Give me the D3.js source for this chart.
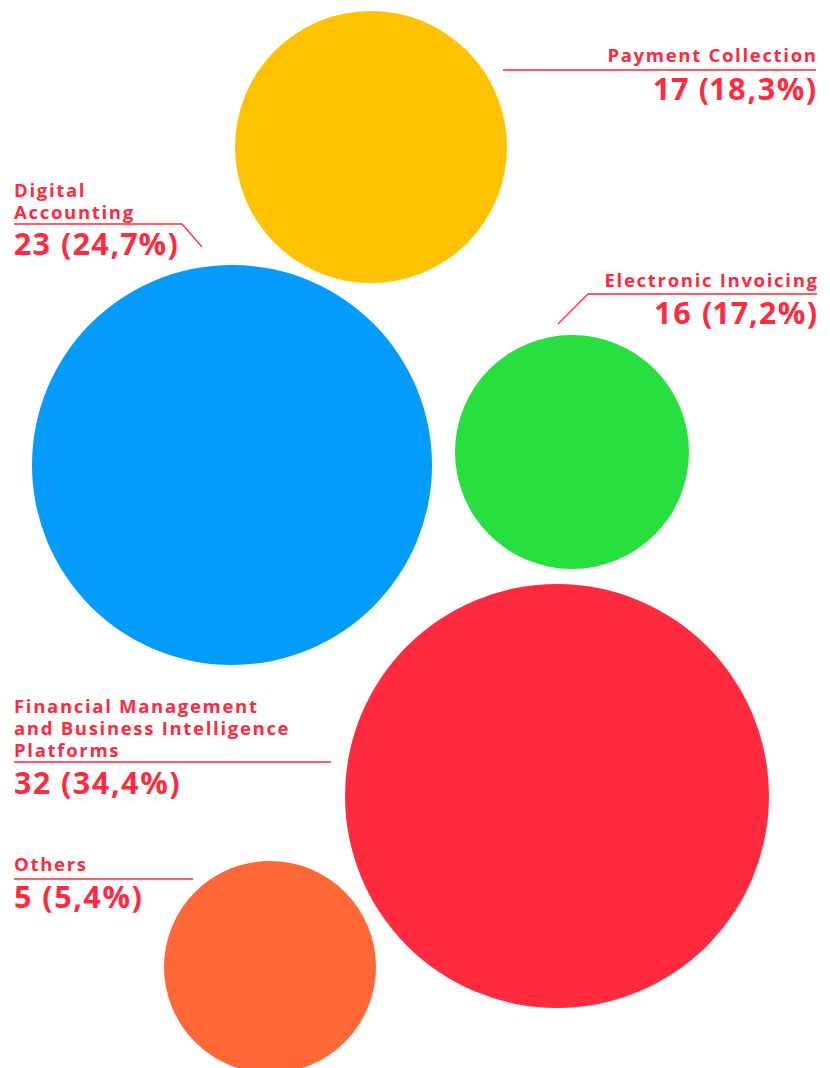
<!DOCTYPE html>
<html>
<head>
<meta charset="utf-8">
<script src="https://cdn.jsdelivr.net/npm/d3@7"></script>
<style>
  html, body { margin: 0; padding: 0; background: #fff; }
  text { font-family: "Open Sans", "DejaVu Sans", sans-serif; font-weight: 700; fill: #ff2a3d; }
  .value { font-variant-numeric: proportional-nums; font-feature-settings: "pnum" 1; }
</style>
</head>
<body>
<div id="chart"></div>
<script>
/* DATA */
const categories = ["Payment Collection", "Digital Accounting", "Electronic Invoicing",
    "Financial Management and Business Intelligence Platforms", "Others"];
const counts = [17, 23, 16, 32, 5];
const percents = [18.3, 24.7, 17.2, 34.4, 5.4];
const labelLines = [["Payment Collection"], ["Digital", "Accounting"], ["Electronic Invoicing"],
    ["Financial Management", "and Business Intelligence", "Platforms"], ["Others"]];

const colorBubble = ["#ffc200", "#039cfb", "#27e03f", "#ff2a3d", "#ff6836"];
const textColor = "#ff2a3d";

/* LAYOUT (hand placed, as in the infographic) */
const layout = [
    {cx: 371, cy: 147, anchor: "end",   tx: 816, nameY: 62,  lineY: 70,  x0: 503, x1: 816, valueY: 100, tail: null},
    {cx: 232, cy: 465, anchor: "start", tx: 14,  nameY: 197, lineY: 224, x0: 14,  x1: 182, valueY: 255, tail: [202, 247]},
    {cx: 572, cy: 452, anchor: "end",   tx: 817, nameY: 287, lineY: 294, x0: 588, x1: 817, valueY: 324, tail: [558, 324]},
    {cx: 557, cy: 796, anchor: "start", tx: 14,  nameY: 713, lineY: 762, x0: 14,  x1: 331, valueY: 794, tail: null},
    {cx: 270, cy: 967, anchor: "start", tx: 14,  nameY: 871, lineY: 879, x0: 14,  x1: 193, valueY: 908, tail: null}
];

const width = 830, height = 1068;

const data = categories.map((c, i) => ({
    category: c, count: counts[i], pct: percents[i], lines: labelLines[i],
    color: colorBubble[i], ...layout[i]
}));

// bubble size grows with the count (the original is not strictly proportional)
const r = d3.scaleLinear()
    .domain([5, 16, 17, 23, 32])
    .range([106, 117, 136, 200, 212]);

const fmt = v => d3.format(".1f")(v).replace(".", ",");

const svg = d3.select("#chart").append("svg")
    .attr("width", width)
    .attr("height", height);

svg.append("g")
    .selectAll("circle")
    .data(data)
    .enter().append("circle")
        .attr("cx", d => d.cx)
        .attr("cy", d => d.cy)
        .attr("r", d => r(d.count))
        .attr("fill", d => d.color);

const lab = svg.append("g")
    .selectAll("g")
    .data(data)
    .enter().append("g");

// leader lines
lab.append("path")
    .attr("fill", "none")
    .attr("stroke", textColor)
    .attr("stroke-width", 1.3)
    .attr("d", d => {
        const p = d3.path();
        if (d.tail && d.anchor == "start") {
            p.moveTo(d.x0, d.lineY); p.lineTo(d.x1, d.lineY); p.lineTo(d.tail[0], d.tail[1]);
        } else if (d.tail) {
            p.moveTo(d.tail[0], d.tail[1]); p.lineTo(d.x0, d.lineY); p.lineTo(d.x1, d.lineY);
        } else {
            p.moveTo(d.x0, d.lineY); p.lineTo(d.x1, d.lineY);
        }
        return p.toString();
    });

// category name
const nameSpacing = 1.7;
lab.append("text")
    .attr("text-anchor", d => d.anchor)
    .attr("font-size", 18.5)
    .attr("letter-spacing", nameSpacing)
    .selectAll("tspan")
    .data(d => d.lines.map((l, j) => ({l, j, d})))
    .enter().append("tspan")
        .attr("x", e => e.d.anchor == "end" ? e.d.tx + nameSpacing : e.d.tx)
        .attr("y", e => e.d.nameY + e.j * 22)
        .text(e => e.l);

// value
const valueSpacing = 1.5;
lab.append("text")
    .attr("class", "value")
    .attr("text-anchor", d => d.anchor)
    .attr("x", d => d.anchor == "end" ? d.tx + valueSpacing : d.tx)
    .attr("y", d => d.valueY)
    .attr("font-size", 30.5)
    .attr("font-weight", 800)
    .attr("letter-spacing", valueSpacing)
    .text(d => d.count + " (" + fmt(d.pct) + "%)");
</script>
</body>
</html>
